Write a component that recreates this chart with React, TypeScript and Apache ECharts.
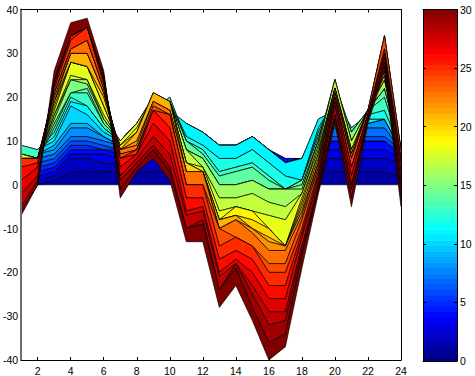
import React, { useEffect, useRef } from "react";
import * as echarts from "echarts";

const xCategories = Array.from({ length: 24 }, (_, i) => String(i + 1));

// Running totals, one list per x position, layers 1..30 from the bottom up.
const col01 = [0,1,2,3,4,5,5,6,7,8, 8,9,7,7,7,7,7,6,6,6, 6,6,6,6,4,1,-2,-5,-6,-7];
const col02 = [0,1,2,3,4,5,6,7,7,8, 8,8,6,6,6,6,6,6,6,6, 6,6,6,6,5,4,2,1,0,0];
const col03 = [1,2,3,4,5,6,7,8,9,10, 11,12,13,14,15,16,16,17,18,19, 19,20,21,21,22,23,23,24,24,26];
const col04 = [3,6,7,8,9,10,11,13,14,18, 19,20,21,21,24,24,25,28,28,28, 30,30,31,31,33,34,34,34,34,37];
const col05 = [3,6,7,8,9,10,11,13,14,16, 18,18,21,22,23,24,24,27,27,27, 30,30,33,33,36,36,36,36,36,38];
const col06 = [3,5,7,8,8,9,10,11,11,12, 13,13,14,14,15,15,16,18,18,20, 21,21,22,22,23,24,24,25,25,26];
const col07 = [3,5,6,7,8,8,9,9,9,10, 10,10,10,10,10,10,10,9,9,8, 8,8,7,6,6,4,2,1,-1,-3];
const col08 = [3,5,6,7,8,9,10,11,12,13, 13,14,14,14,14,14,14,13,12,12, 10,9,8,8,7,7,6,5,4,3];
const col09 = [3,6,8,9,10,11,12,13,14,15, 16,17,18,18,19,20,20,20,21,21, 19,19,18,17,17,14,11,9,8,6];
const col10 = [3,6,8,9,10,12,13,14,15,17, 19,20,19,19,19,19,19,19,19,19, 17,17,16,16,13,10,7,4,3,1];
const col11 = [3,6,8,9,10,11,12,13,14,14, 11,10,10,8,8,8,5,5,5,3, 3,3,0,0,-3,-6,-7,-10,-10,-13];
const col12 = [3,6,8,9,10,11,12,12,12,12, 9,8,7,6,6,4,4,3,3,3, 3,3,0,0,-3,-5,-6,-8,-9,-13];
const col13 = [3,6,7,8,8,9,9,9,9,9, 6,3,2,0,0,-3,-6,-8,-8,-8, -10,-10,-10,-14,-17,-20,-21,-24,-24,-28];
const col14 = [3,6,7,8,9,9,9,9,9,9, 6,4,3,0,0,-3,-5,-5,-7,-7, -8,-8,-12,-12,-15,-17,-18,-18,-19,-23];
const col15 = [3,6,7,8,9,10,11,11,11,11, 8,5,4,1,1,-2,-6,-6,-8,-10, -10,-11,-14,-14,-17,-20,-23,-25,-28,-31];
const col16 = [3,6,8,8,8,8,8,8,8,8, 5,2,1,-1,-1,-4,-7,-10,-10,-12, -13,-15,-18,-20,-23,-26,-29,-32,-36,-40];
const col17 = [3,5,6,5,5,5,5,5,5,5, 2,-1,-1,-1,-1,-5,-8,-14,-14,-14, -14,-15,-18,-20,-23,-26,-29,-31,-34,-37];
const col18 = [3,5,6,6,6,6,6,6,6,6, 1,1,1,0,-1,-2,-2,-3,-4,-5, -6,-7,-8,-10,-11,-12,-14,-15,-16,-19];
const col19 = [3,6,8,9,10,11,12,13,14,15, 13,12,11,10,10,9,8,7,7,6, 5,5,4,3,2,1,0,-1,-1,-2];
const col20 = [3,6,8,10,10,11,13,14,15,17, 19,20,21,23,24,24,22,22,22,22, 22,21,21,20,20,19,18,16,15,14];
const col21 = [3,6,8,10,10,11,12,13,13,13, 13,13,12,12,10,10,8,8,7,7, 7,6,6,4,4,2,0,-1,-3,-5];
const col22 = [3,6,8,10,10,11,13,14,14,14, 15,16,17,17,17,17,17,17,17,17, 17,17,17,16,16,16,15,15,15,14];
const col23 = [3,6,8,10,10,11,13,15,15,15, 15,17,20,22,22,24,24,25,25,26, 30,34,34,31,30,30,29,28,27,26];
const col24 = [2,5,6,7,7,8,8,8,8,8, 8,8,8,8,8,8,8,8,8,8, 8,8,8,6,5,3,1,-1,-3,-5];

const columns = [col01,col02,col03,col04,col05,col06,col07,col08,col09,col10,col11,col12,
  col13,col14,col15,col16,col17,col18,col19,col20,col21,col22,col23,col24];

const colorbarLevels = Array.from({ length: 64 }, (_, i) => i);

function jet(t: number): string {
  const ch = (v: number) => Math.round(255 * Math.max(0, Math.min(1, v)));
  const r = 1.5 - Math.abs(4 * t - 3);
  const g = 1.5 - Math.abs(4 * t - 2);
  const b = 1.5 - Math.abs(4 * t - 1);
  return `rgb(${ch(r)},${ch(g)},${ch(b)})`;
}

const FONT = "Liberation Sans";
const labelStyle = { color: "#000", fontSize: 10.5, fontFamily: FONT };
const isEven = (i: number) => i % 2 === 1;
const edge = { color: "#000", width: 0.8, opacity: 0.85 };

function buildOption() {
  const layerSeries = Array.from({ length: 30 }, (_, k) => ({
    type: "line",
    name: `layer${k + 1}`,
    xAxisIndex: 0,
    yAxisIndex: 0,
    stack: "all",
    stackStrategy: "all",
    symbol: "none",
    silent: true,
    z: 2 + k,
    lineStyle: edge,
    areaStyle: { color: jet((k + 1) / 30), opacity: 1 },
    data: columns.map((c) => (k === 0 ? c[0] : c[k] - c[k - 1])),
  }));

  // Each layer also carries an outline along its lower side, at the same depth as its fill.
  const lowerEdges = Array.from({ length: 30 }, (_, k) => ({
    type: "line",
    name: `edge${k + 1}`,
    xAxisIndex: 0,
    yAxisIndex: 0,
    symbol: "none",
    silent: true,
    z: 2 + k,
    lineStyle: edge,
    data: columns.map((c) => (k === 0 ? 0 : c[k - 1])),
  }));

  const colorbarSeries = {
    type: "custom",
    xAxisIndex: 2,
    yAxisIndex: 2,
    silent: true,
    data: colorbarLevels,
    renderItem: (params: any, api: any) => {
      const i = api.value(0);
      const [x0, y0] = api.coord([0, (i * 30) / 64]);
      const [x1, y1] = api.coord([1, ((i + 1) * 30) / 64]);
      return {
        type: "rect",
        shape: { x: x0, y: y1, width: x1 - x0, height: y0 - y1 + 0.5 },
        style: { fill: jet((i + 0.5) / 64), stroke: null },
      };
    },
    encode: { x: 0, y: 0 },
  };

  const cbX = (position: string) => ({
    type: "value",
    gridIndex: 1,
    position,
    min: 0,
    max: 1,
    z: 100,
    axisLine: { onZero: false, lineStyle: { color: "#000", width: 1 } },
    axisTick: { show: false },
    axisLabel: { show: false },
    splitLine: { show: false },
  });

  return {
    animation: false,
    backgroundColor: "#fff",
    grid: [
      { left: 20, top: 9.5, width: 381, height: 351.5 },
      { left: 423, top: 9.5, width: 34, height: 351.5 },
    ],
    xAxis: [
      {
        type: "category", gridIndex: 0, data: xCategories, boundaryGap: false, position: "bottom", z: 100,
        axisLine: { onZero: false, lineStyle: { color: "#000", width: 1 } },
        axisTick: { inside: true, length: 3, interval: isEven, lineStyle: { color: "#000", width: 1 } },
        axisLabel: { ...labelStyle, interval: isEven, margin: 5, hideOverlap: false },
        splitLine: { show: false },
      },
      {
        type: "category", gridIndex: 0, data: xCategories, boundaryGap: false, position: "top", z: 100,
        axisLine: { onZero: false, lineStyle: { color: "#000", width: 1 } },
        axisTick: { inside: true, length: 3, interval: isEven, lineStyle: { color: "#000", width: 1 } },
        axisLabel: { show: false },
        splitLine: { show: false },
      },
      cbX("bottom"),
      cbX("top"),
    ],
    yAxis: [
      {
        type: "value", gridIndex: 0, min: -40, max: 40, interval: 10, position: "left", z: 100,
        axisLine: { show: true, onZero: false, lineStyle: { color: "#6e6e6e", width: 2 } },
        axisTick: { inside: true, length: 3, lineStyle: { color: "#000", width: 1 } },
        axisLabel: { ...labelStyle, margin: 3 },
        splitLine: { show: false },
      },
      {
        type: "value", gridIndex: 0, min: -40, max: 40, interval: 10, position: "right", z: 100,
        axisLine: { show: true, onZero: false, lineStyle: { color: "#000", width: 1 } },
        axisTick: { inside: true, length: 3, lineStyle: { color: "#000", width: 1 } },
        axisLabel: { show: false },
        splitLine: { show: false },
      },
      {
        type: "value", gridIndex: 1, min: 0, max: 30, interval: 5, position: "right", z: 100,
        axisLine: { show: true, onZero: false, lineStyle: { color: "#000", width: 1 } },
        axisTick: { inside: true, length: 3, lineStyle: { color: "#000", width: 1 } },
        axisLabel: { ...labelStyle, margin: 3 },
        splitLine: { show: false },
      },
      {
        type: "value", gridIndex: 1, min: 0, max: 30, interval: 5, position: "left", z: 100,
        axisLine: { show: true, onZero: false, lineStyle: { color: "#000", width: 1 } },
        axisTick: { inside: true, length: 3, lineStyle: { color: "#000", width: 1 } },
        axisLabel: { show: false },
        splitLine: { show: false },
      },
    ],
    series: [...layerSeries, ...lowerEdges, colorbarSeries],
  };
}

export default function App() {
  const ref = useRef<HTMLDivElement>(null);
  useEffect(() => {
    if (!ref.current) return;
    const chart = echarts.init(ref.current, undefined, { renderer: "svg" });
    chart.setOption(buildOption() as any);
    return () => chart.dispose();
  }, []);
  return <div ref={ref} style={{ position: "fixed", left: 0, top: 0, width: 475, height: 376 }} />;
}
